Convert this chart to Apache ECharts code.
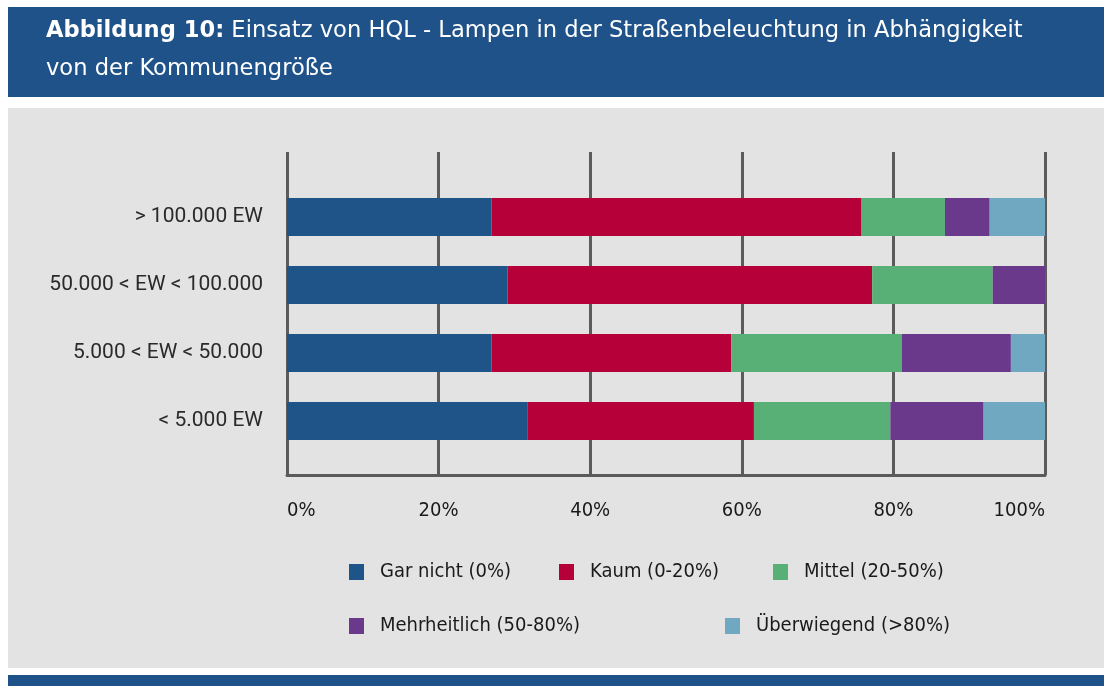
<!DOCTYPE html>
<html>
<head>
<meta charset="utf-8">
<script src="https://cdn.jsdelivr.net/npm/echarts@6/dist/echarts.min.js"></script>
<style>
  html, body { margin: 0; padding: 0; background: #fff; }
</style>
</head>
<body>
<div id="chart" style="width: 1104px; height: 686px"></div>
<script>
const categories = ["> 100.000 EW", "50.000 < EW < 100.000", "5.000 < EW < 50.000", "< 5.000 EW"];
const seriesNames = ["Gar nicht (0%)", "Kaum (0-20%)", "Mittel (20-50%)", "Mehrheitlich (50-80%)", "Überwiegend (>80%)"];
const garNicht = [27.0, 29.1, 27.0, 31.7];
const kaum = [48.8, 48.1, 31.6, 29.9];
const mittel = [11.0, 15.9, 22.5, 18.0];
const mehrheitlich = [5.9, 6.9, 14.4, 12.3];
const ueberwiegend = [7.3, 0, 4.5, 8.1];
const colors = ["#1f5489", "#b5003a", "#58b077", "#6b398c", "#6fa8c0"];

const condensed = "DejaVu Sans Condensed";
const chart = echarts.init(document.getElementById("chart"));

// legend: each item placed on its own, two rows
const legendPos = [
  [349, 562], [559, 562], [773, 562],
  [349, 616], [725, 616],
];

chart.setOption({
  animation: false,
  graphic: [
    { type: "rect", shape: { x: 8, y: 7, width: 1096, height: 90 }, style: { fill: "#1f5289" }, z: -10 },
    { type: "rect", shape: { x: 8, y: 108, width: 1096, height: 560 }, style: { fill: "#e3e3e3" }, z: -10 },
    { type: "rect", shape: { x: 8, y: 675, width: 1096, height: 11 }, style: { fill: "#1f5289" }, z: -10 },
  ],
  title: {
    left: 46,
    top: 12,
    padding: 0,
    text: "{b|Abbildung 10:} Einsatz von HQL - Lampen in der Straßenbeleuchtung in Abhängigkeit\nvon der Kommunengröße",
    textStyle: {
      color: "#fff",
      fontFamily: "DejaVu Sans",
      fontSize: 22.6,
      fontWeight: "normal",
      lineHeight: 38,
      rich: {
        b: { color: "#fff", fontFamily: "DejaVu Sans", fontSize: 22.6, fontWeight: "bold", lineHeight: 38 },
      },
    },
  },
  legend: legendPos.map((p, i) => ({
    left: p[0],
    top: p[1],
    padding: 0,
    data: [seriesNames[i]],
    icon: "rect",
    itemWidth: 15,
    itemHeight: 16,
    textStyle: { fontFamily: condensed, fontSize: 20, color: "#1a1a1a", padding: [0, 0, 0, 11] },
    selectedMode: false,
  })),
  grid: [
    // frame with the grid lines
    { left: 287, right: 59, top: 152, bottom: 211 },
    // bars
    { left: 287, right: 59, top: 183, bottom: 231 },
  ],
  xAxis: [
    {
      gridIndex: 0,
      type: "value",
      min: 0,
      max: 100,
      interval: 20,
      axisLine: { show: true, lineStyle: { color: "#5b5b5b", width: 3 } },
      axisTick: { show: false },
      splitLine: { show: true, lineStyle: { color: "#5b5b5b", width: 3 } },
      axisLabel: {
        formatter: "{value}%",
        margin: 26,
        fontFamily: condensed,
        fontSize: 20,
        color: "#1a1a1a",
        alignMinLabel: "left",
        alignMaxLabel: "right",
      },
    },
    {
      gridIndex: 1,
      type: "value",
      min: 0,
      max: 100,
      show: false,
    },
  ],
  yAxis: [
    {
      gridIndex: 0,
      type: "value",
      min: 0,
      max: 1,
      axisLine: { show: false },
      axisTick: { show: false },
      axisLabel: { show: false },
      splitLine: { show: false },
    },
    {
      gridIndex: 1,
      type: "category",
      inverse: true,
      data: categories,
      axisLine: { show: false },
      axisTick: { show: false },
      axisLabel: { margin: 24, fontFamily: "Roboto", fontSize: 21, color: "#2a2a2a" },
    },
  ],
  series: [garNicht, kaum, mittel, mehrheitlich, ueberwiegend].map((d, i) => ({
    name: seriesNames[i],
    type: "bar",
    stack: "total",
    xAxisIndex: 1,
    yAxisIndex: 1,
    barWidth: 38,
    itemStyle: { color: colors[i] },
    data: d,
  })),
});
</script>
</body>
</html>
